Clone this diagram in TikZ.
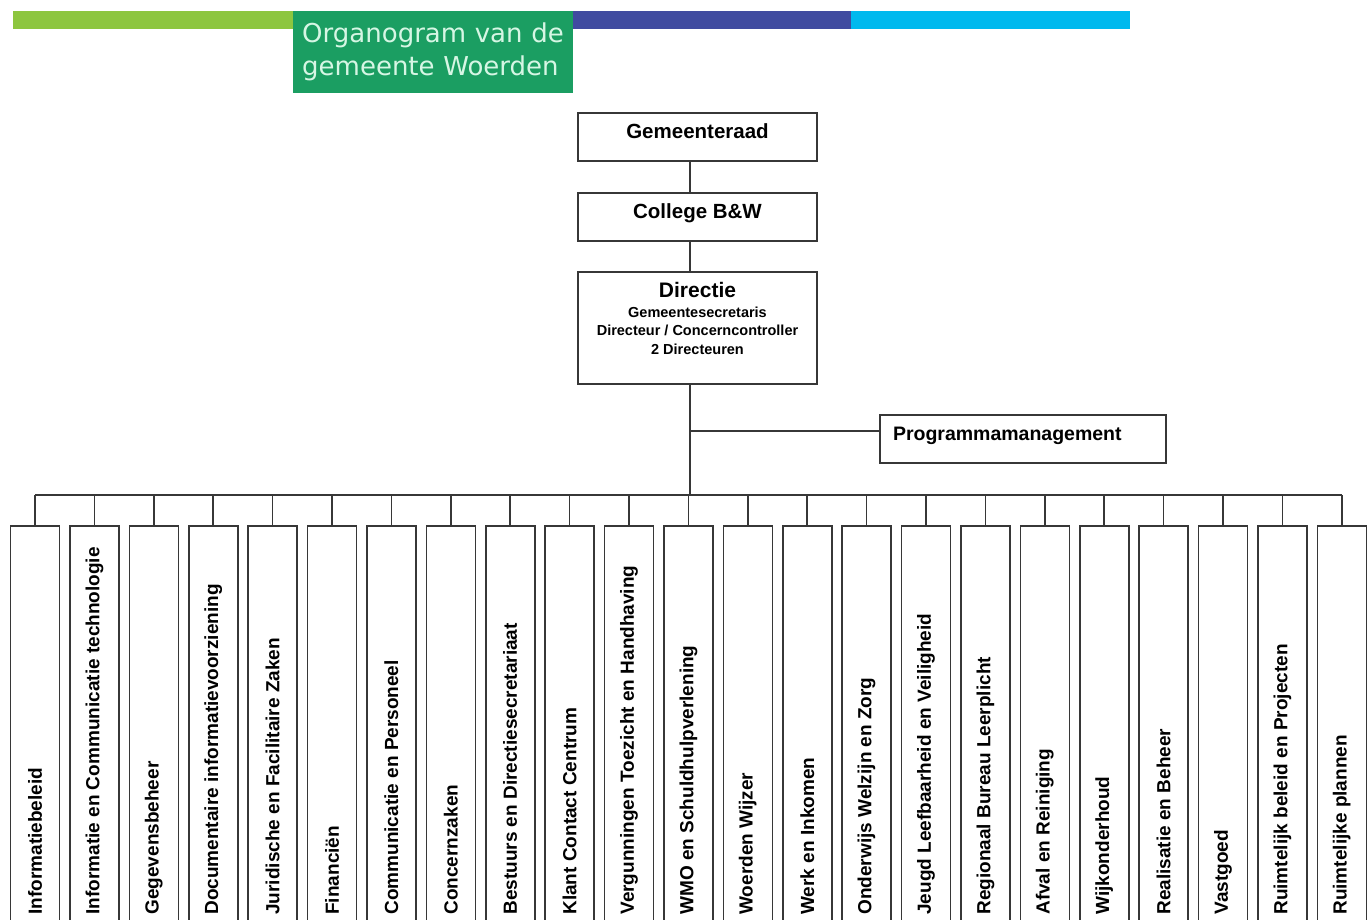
\documentclass[tikz,border=0pt]{standalone}
\usepackage{fontspec}
\setmainfont{Liberation Sans}
\newfontfamily\titlefont{DejaVu Sans}
\usepackage{xcolor}
\usetikzlibrary{positioning,calc}

\definecolor{barlime}{RGB}{141,198,63}
\definecolor{barnavy}{RGB}{64,75,160}
\definecolor{barcyan}{RGB}{0,185,238}
\definecolor{titlegreen}{RGB}{27,158,98}
\definecolor{titletext}{RGB}{214,246,228}
\definecolor{linegray}{RGB}{55,55,55}

\tikzset{
    box/.style={draw=linegray, line width=1.6pt, fill=white, inner sep=0pt},
    headbox/.style={box, minimum width=239pt, minimum height=48pt,
        text height=15pt, text depth=12pt,
        font=\bfseries\fontsize{20.5}{24}\selectfont},
    unitbox/.style={box, minimum width=49pt, minimum height=414pt},
    unittext/.style={rotate=90, anchor=west, inner sep=0pt,
        font=\bfseries\fontsize{19}{22}\selectfont},
    conn/.style={draw=linegray, line width=1.6pt}
}

\begin{document}
\begin{tikzpicture}[x=1pt,y=-1pt]
    \useasboundingbox (0,0) rectangle (1372,919);
    \clip (0,0) rectangle (1372,919);
    \fill[white] (0,0) rectangle (1372,919);

    % Banner
    \fill[barlime] (13,11) rectangle (293,29);
    \fill[barnavy] (573,11) rectangle (851,29);
    \fill[barcyan] (851,11) rectangle (1130,29);
    \node[fill=titlegreen, text=titletext, anchor=north west,
        minimum width=280pt, minimum height=82pt, inner xsep=9pt, inner ysep=0pt,
        text width=262pt, align=left,
        font=\titlefont\fontsize{26}{33}\selectfont] (title) at (293,11)
        {Organogram van de\\gemeente Woerden};

    % Top of the chart
    \node[headbox] (raad) at (697.5,137) {Gemeenteraad};
    \node[headbox] (college) at (697.5,217) {College B\&W};
    \node[box, minimum width=239pt, minimum height=112pt] (dir) at (697.5,328) {};
    \node[anchor=north, inner sep=0pt, align=center,
        font=\bfseries\fontsize{14.5}{18.5}\selectfont] (dirtext) at ([yshift=-11pt]dir.north)
        {{\fontsize{21}{21}\selectfont Directie}\\[1pt]
         Gemeentesecretaris\\Directeur / Concerncontroller\\2 Directeuren};
    \node[box, minimum height=48pt, text width=260pt, inner xsep=13pt, align=left,
        text height=14pt, text depth=11pt,
        font=\bfseries\fontsize{19.5}{23}\selectfont] (pm) at (1023,439) {Programmamanagement};

    \coordinate (pmjoin) at (690,431);
    \coordinate (bus) at (690,495);

    \draw[conn] (raad.south -| bus) -- (college.north -| bus);
    \draw[conn] (college.south -| bus) -- (dir.north -| bus);
    \draw[conn] (dir.south -| bus) -- (bus);
    \draw[conn] (pmjoin) -- (pm.west |- pmjoin);

    % Departments
    \foreach \i/\name [evaluate=\i as \cx using {35+59.4*(\i-1)}] in {
        1/Informatiebeleid,
        2/Informatie en Communicatie technologie,
        3/Gegevensbeheer,
        4/Documentaire informatievoorziening,
        5/Juridische en Facilitaire Zaken,
        6/Financiën,
        7/Communicatie en Personeel,
        8/Concernzaken,
        9/Bestuurs en Directiesecretariaat,
        10/Klant Contact Centrum,
        11/Vergunningen Toezicht en Handhaving,
        12/WMO en Schuldhulpverlening,
        13/Woerden Wijzer,
        14/Werk en Inkomen,
        15/Onderwijs Welzijn en Zorg,
        16/Jeugd Leefbaarheid en Veiligheid,
        17/Regionaal Bureau Leerplicht,
        18/Afval en Reiniging,
        19/Wijkonderhoud,
        20/Realisatie en Beheer,
        21/Vastgoed,
        22/Ruimtelijk beleid en Projecten,
        23/Ruimtelijke plannen}{
        \node[unitbox] (unit\i) at (\cx,733) {};
        \node[unittext] (label\i) at ([yshift=26pt]unit\i.south) {\name};
        \draw[conn] (unit\i.north) -- (unit\i.north |- bus);
    }
    \draw[conn] (unit1.north |- bus) -- (unit23.north |- bus);
\end{tikzpicture}
\end{document}
